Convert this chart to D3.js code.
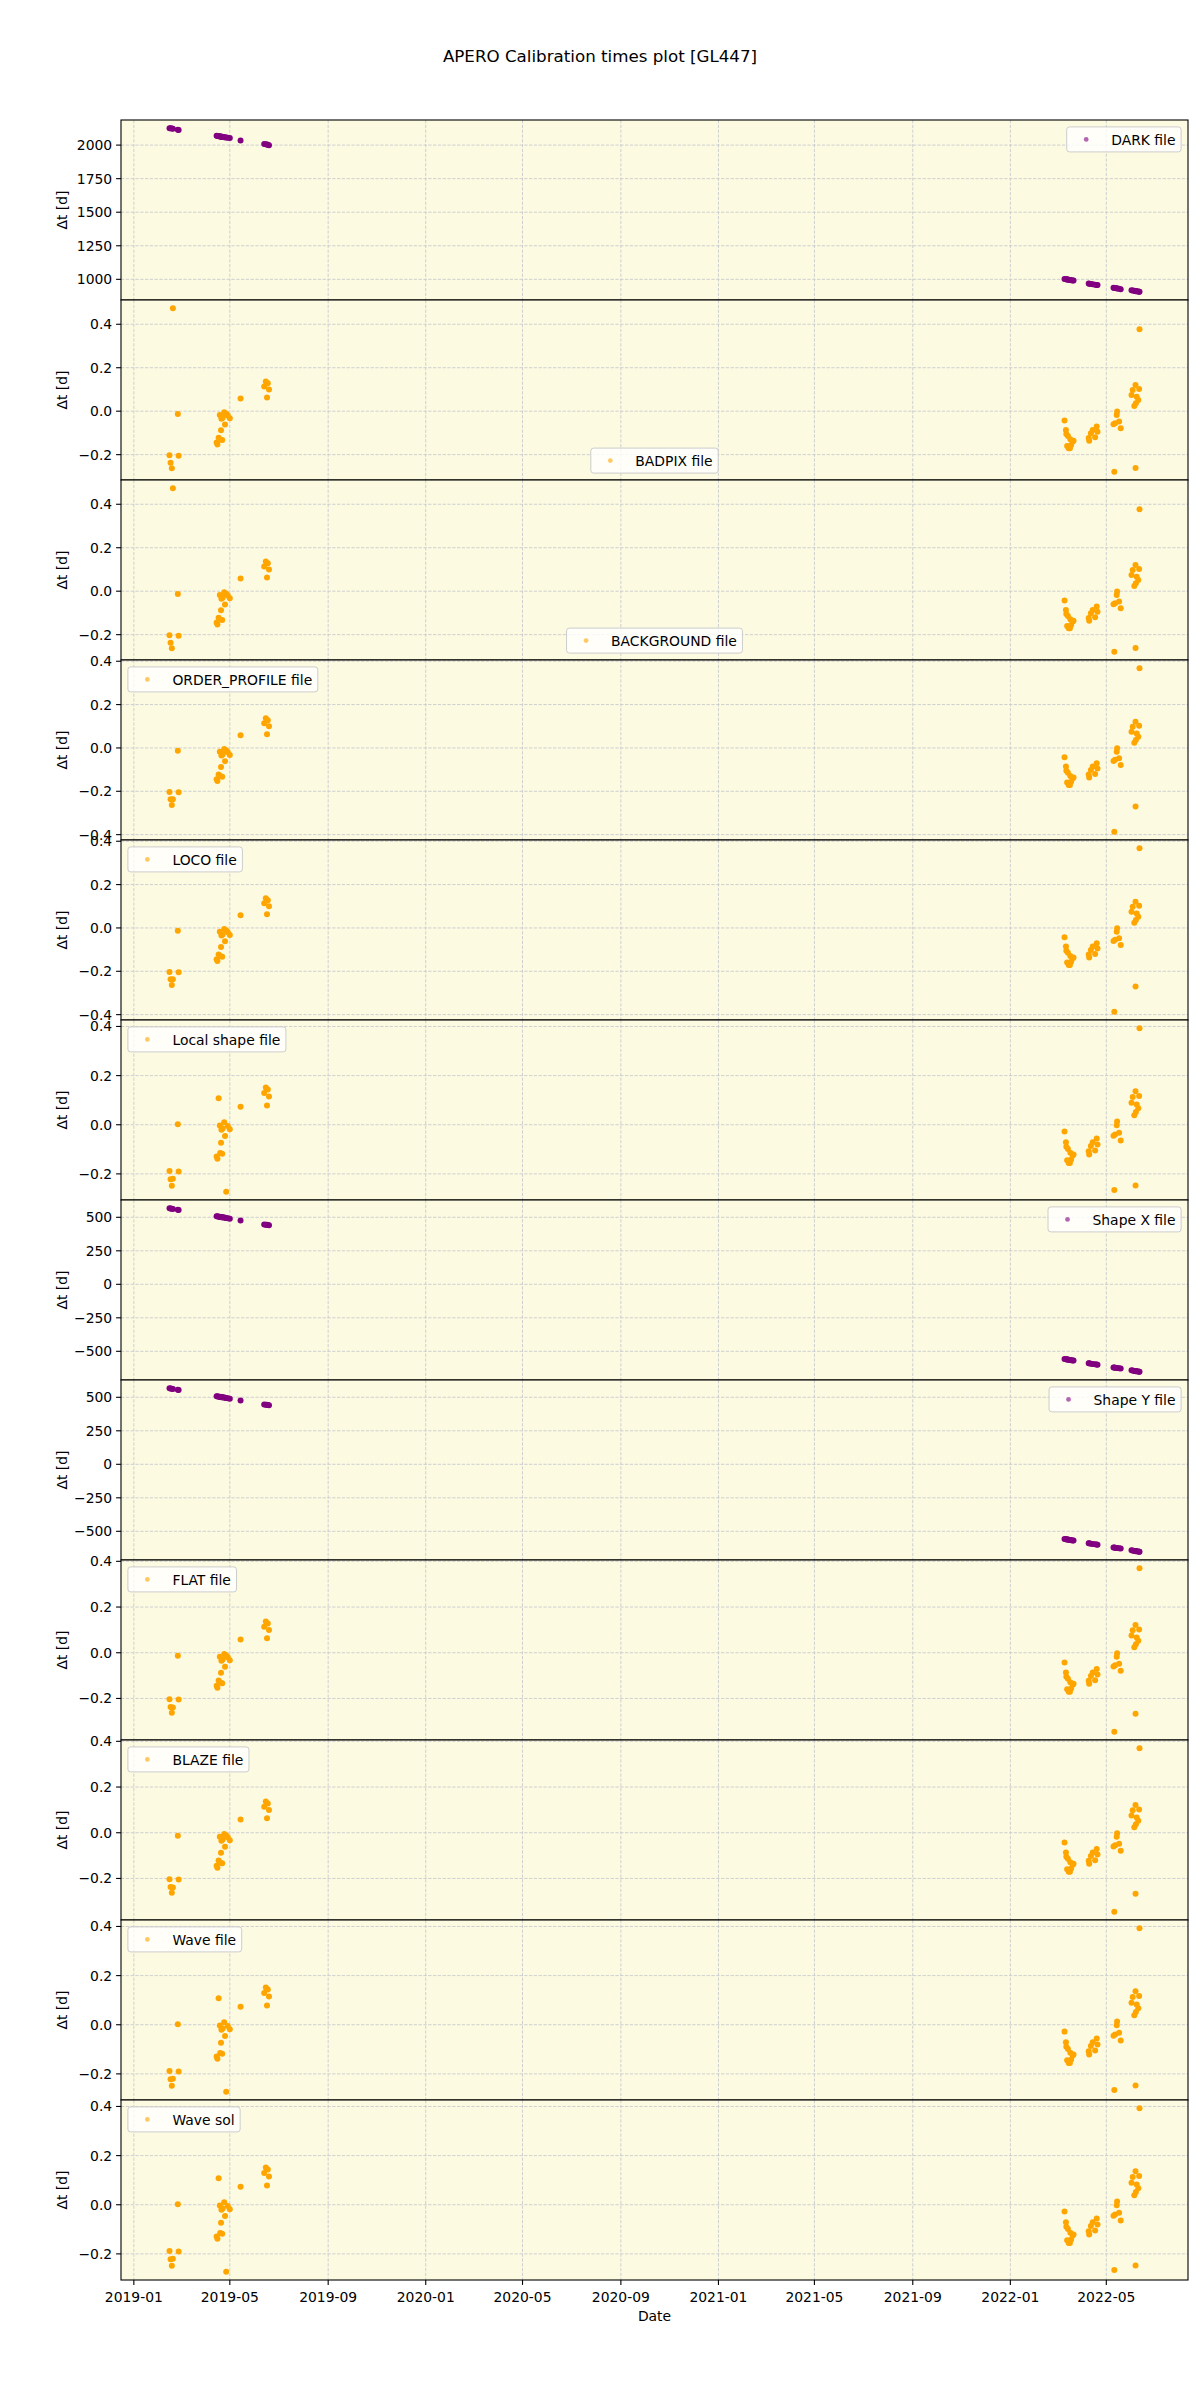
<!DOCTYPE html>
<html><head><meta charset="utf-8">
<script src="https://cdn.jsdelivr.net/npm/d3@7"></script>
<style>body{margin:0;background:#fff} text{font-family:"DejaVu Sans",sans-serif;fill:#000}</style>
</head><body><svg id="c" width="1200" height="2400"></svg>
<script>
// ---------- DATA ----------
const obsDates = [
"2019-02-14 14:00","2019-02-15 22:00","2019-02-17 12:00","2019-02-18 19:00","2019-02-25 00:00","2019-02-26 00:00",
"2019-04-14 12:00","2019-04-15 12:00","2019-04-17 00:00","2019-04-19 00:00","2019-04-20 00:00","2019-04-18 12:00",
"2019-04-20 12:00","2019-04-22 00:00","2019-04-24 00:00","2019-04-25 00:00","2019-04-26 12:00","2019-04-28 12:00",
"2019-05-01 00:00","2019-04-21 12:00","2019-05-14 10:00","2019-06-13 00:00","2019-06-15 00:00","2019-06-16 12:00",
"2019-06-17 12:00","2019-06-19 00:00",
"2022-03-09 18:00","2022-03-11 12:00","2022-03-12 00:00","2022-03-14 00:00","2022-03-15 00:00","2022-03-16 12:00",
"2022-03-17 00:00","2022-03-18 00:00","2022-03-20 00:00","2022-03-21 00:00","2022-03-13 00:00",
"2022-04-09 14:00","2022-04-09 00:00","2022-04-11 17:00","2022-04-14 00:00","2022-04-17 00:00","2022-04-19 00:00","2022-04-20 00:00",
"2022-05-10 00:00","2022-05-11 00:00","2022-05-12 00:00","2022-05-14 00:00","2022-05-14 12:00","2022-05-17 00:00","2022-05-19 00:00",
"2022-06-01 12:00","2022-06-03 00:00","2022-06-05 00:00","2022-06-06 12:00","2022-06-06 13:00","2022-06-07 00:00",
"2022-06-08 00:00","2022-06-10 00:00","2022-06-11 00:00","2022-06-11 12:00"];

const dtDark = [2126,2125,2123,2121,2115,2113,2069,2068,2066,2064,2063,2065,2062,2061,2059,2058,2057,2055,2052,2062,2035,
2009,2006,2004,2003,1999,1003,1001,1000,998,997,995,995,994,992,991,999,968,969,966,963,960,958,957,
937,936,935,933,932,930,927,918,917,915,913,913,912,911,909,908,907];

const dtShape = [568,566,564,562,556,555,508,507,505,503,502,504,501,500,498,497,495,493,490,500,476,
447,445,444,443,440,-557,-559,-560,-562,-563,-565,-565,-566,-568,-569,-561,-589,-589,-592,-594,-597,-599,-600,
-620,-621,-622,-624,-625,-627,-629,-642,-644,-646,-647,-647,-648,-649,-651,-652,-653];

const dtNightA = [-0.203,-0.237,-0.263,0.474,-0.013,-0.205,-0.144,-0.153,-0.122,-0.130,-0.088,-0.018,
-0.035,-0.030,-0.005,-0.061,-0.012,-0.020,-0.033,-0.133,0.058,0.114,0.137,0.063,0.128,0.100,
-0.043,-0.086,-0.105,-0.114,-0.171,-0.171,-0.129,-0.156,-0.140,-0.136,-0.160,
-0.136,-0.123,-0.102,-0.086,-0.120,-0.071,-0.095,
-0.060,-0.279,-0.055,-0.017,-0.002,-0.048,-0.079,
0.075,0.098,0.024,0.121,-0.262,0.037,0.067,0.052,0.102,0.377];

const dtNightB = [-0.203,-0.237,-0.263,-0.237,-0.013,-0.205,-0.144,-0.153,-0.122,-0.130,-0.088,-0.018,
-0.035,-0.030,-0.005,-0.061,-0.012,-0.020,-0.033,-0.133,0.058,0.114,0.137,0.063,0.128,0.100,
-0.043,-0.086,-0.105,-0.114,-0.171,-0.171,-0.129,-0.156,-0.140,-0.136,-0.160,
-0.136,-0.123,-0.102,-0.086,-0.120,-0.071,-0.095,
-0.060,-0.387,-0.055,-0.017,-0.002,-0.048,-0.079,
0.075,0.098,0.024,0.121,-0.270,0.037,0.067,0.052,0.102,0.368];

const dtNightC = [-0.203,-0.237,-0.263,-0.240,-0.013,-0.205,-0.144,-0.153,-0.122,-0.130,-0.088,-0.018,
-0.035,-0.030,-0.005,-0.061,-0.012,-0.020,-0.033,-0.133,0.058,0.114,0.137,0.063,0.128,0.100,
-0.043,-0.086,-0.105,-0.114,-0.171,-0.171,-0.129,-0.156,-0.140,-0.136,-0.160,
-0.136,-0.123,-0.102,-0.086,-0.120,-0.071,-0.095,
-0.060,-0.346,-0.055,-0.017,-0.002,-0.048,-0.079,
0.075,0.098,0.024,0.121,-0.267,0.037,0.067,0.052,0.102,0.370];

const dtNightD = [-0.188,-0.222,-0.248,-0.220,0.002,-0.190,-0.129,-0.138,0.108,-0.115,-0.073,-0.003,
-0.020,-0.015,0.010,-0.046,-0.273,-0.005,-0.018,-0.118,0.073,0.129,0.152,0.078,0.143,0.115,
-0.028,-0.071,-0.090,-0.099,-0.156,-0.156,-0.114,-0.141,-0.125,-0.121,-0.145,
-0.121,-0.108,-0.087,-0.071,-0.105,-0.056,-0.080,
-0.045,-0.266,-0.040,-0.002,0.013,-0.033,-0.064,
0.090,0.113,0.039,0.136,-0.247,0.052,0.082,0.067,0.117,0.393];

const panelLabels = ["DARK file","BADPIX file","BACKGROUND file","ORDER_PROFILE file","LOCO file","Local shape file",
  "Shape X file","Shape Y file","FLAT file","BLAZE file","Wave file","Wave sol"];
const panelSeries = [dtDark,dtNightA,dtNightA,dtNightB,dtNightB,dtNightD,dtShape,dtShape,dtNightC,dtNightC,dtNightD,dtNightD];

const darkTicks = [1000,1250,1500,1750,2000];
const shapeTicks = [-500,-250,0,250,500];
const nightTicks = [-0.4,-0.2,0.0,0.2,0.4];
const dateTicks = ["2019-01","2019-05","2019-09","2020-01","2020-05","2020-09","2021-01","2021-05","2021-09","2022-01","2022-05"];

const titleText = "APERO Calibration times plot [GL447]";
const yLabel = "\u0394t [d]";
const xLabel = "Date";

// ---------- LAYOUT / STYLE ----------
const L = 121, R = 1188, T = 120, PH = 180, N = panelLabels.length;
const FS = 13.9;
const ORANGE = "#ffa500", PURPLE = "#800080";
const BG = "#fcfbe2";
const legendLoc = ["ur","lc","lc","ul","ul","ul","ur","ur","ul","ul","ul","ul"];

const svg = d3.select("#c");
const parse = d3.timeParse("%Y-%m-%d %H:%M");
const dates = obsDates.map(parse);
const ext = d3.extent(dates);
const span = ext[1] - ext[0];
const x = d3.scaleTime()
  .domain([new Date(+ext[0] - 0.05*span), new Date(+ext[1] + 0.05*span)])
  .range([L, R]);
const tickDates = dateTicks.map(d3.timeParse("%Y-%m"));
const minus = s => s.replace("-", "\u2212");

svg.append("text").attr("x", 600).attr("y", 56).attr("text-anchor","middle")
  .attr("dominant-baseline","central").style("font-size","16.7px").text(titleText);

panelLabels.forEach((label, i) => {
  const vals = panelSeries[i];
  const top = T + i*PH, bot = top + PH;
  const ve = d3.extent(vals), vs = ve[1]-ve[0];
  const y = d3.scaleLinear().domain([ve[0]-0.05*vs, ve[1]+0.05*vs]).range([bot, top]);
  const isDark = vals === dtDark, isShape = vals === dtShape;
  const ticks = (isDark ? darkTicks : isShape ? shapeTicks : nightTicks)
     .filter(t => t >= y.domain()[0] && t <= y.domain()[1]);
  const fmt = (isDark || isShape) ? (v => minus(d3.format("d")(v))) : (v => minus(d3.format(".1f")(v)));
  const color = (isDark || isShape) ? PURPLE : ORANGE;

  const g = svg.append("g");
  g.append("rect").attr("x", L).attr("y", top).attr("width", R-L).attr("height", PH).attr("fill", BG);
  // grid
  const grid = g.append("g").attr("stroke","#cacace").attr("stroke-width",0.9).attr("stroke-dasharray","3.3,1.5");
  tickDates.forEach(d => grid.append("line").attr("x1", x(d)).attr("x2", x(d)).attr("y1", top).attr("y2", bot));
  ticks.forEach(t => grid.append("line").attr("x1", L).attr("x2", R).attr("y1", y(t)).attr("y2", y(t)));
  // points
  g.append("g").selectAll("circle").data(vals).join("circle")
    .attr("cx", (v, j) => x(dates[j])).attr("cy", v => y(v)).attr("r", 3.0).attr("fill", color);
  // y ticks
  ticks.forEach(t => {
    g.append("line").attr("x1", L-4.9).attr("x2", L).attr("y1", y(t)).attr("y2", y(t)).attr("stroke","#000").attr("stroke-width",1.1);
    g.append("text").attr("x", L-8.8).attr("y", y(t)).attr("text-anchor","end").attr("dominant-baseline","central")
      .style("font-size", FS+"px").text(fmt(t));
  });
  g.append("text").attr("transform", `translate(62,${(top+bot)/2}) rotate(-90)`).attr("text-anchor","middle")
    .attr("dominant-baseline","central").style("font-size", FS+"px").text(yLabel);
  // frame
  g.append("rect").attr("x", L).attr("y", top).attr("width", R-L).attr("height", PH)
    .attr("fill","none").attr("stroke","#000").attr("stroke-width",1.1);
  // legend
  const lg = g.append("g");
  const box = lg.append("rect");
  const txt = lg.append("text").style("font-size", FS+"px").attr("dominant-baseline","central").text(label);
  const tw = txt.node().getBBox().width;
  const bw = 50.1 + tw, bh = 25;
  let bx, by;
  const loc = legendLoc[i];
  if (loc === "ur") { bx = R - 6.9 - bw; by = top + 6.9; }
  else if (loc === "ul") { bx = L + 6.9; by = top + 6.9; }
  else { bx = (L+R)/2 - bw/2; by = bot - 6.9 - bh; }
  box.attr("x", bx).attr("y", by).attr("width", bw).attr("height", bh).attr("rx", 2.8)
    .attr("fill","#fff").attr("fill-opacity",0.8).attr("stroke","#cccccc").attr("stroke-width",1);
  lg.append("circle").attr("cx", bx+19.5).attr("cy", by+bh/2).attr("r", 2.4).attr("fill", color).attr("fill-opacity",0.6);
  txt.attr("x", bx+44.5).attr("y", by+bh/2+0.5);
});

// bottom x axis
const bottom = T + N*PH;
tickDates.forEach((d, k) => {
  svg.append("line").attr("x1", x(d)).attr("x2", x(d)).attr("y1", bottom).attr("y2", bottom+4.9).attr("stroke","#000").attr("stroke-width",1.1);
  svg.append("text").attr("x", x(d)).attr("y", bottom+16.7).attr("text-anchor","middle").attr("dominant-baseline","central")
    .style("font-size", FS+"px").text(dateTicks[k]);
});
svg.append("text").attr("x", (L+R)/2).attr("y", bottom+35.7).attr("text-anchor","middle").attr("dominant-baseline","central")
  .style("font-size", FS+"px").text(xLabel);
</script></body></html>
